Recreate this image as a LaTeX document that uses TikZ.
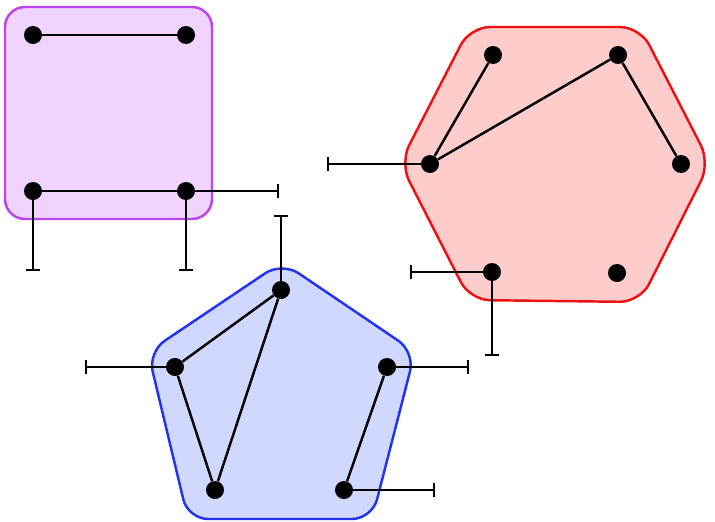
\documentclass[tikz,border=0pt]{standalone}
\usetikzlibrary{arrows.meta}
\definecolor{sqfill}{HTML}{F0D4FF}
\definecolor{sqline}{HTML}{BB44EE}
\definecolor{hxfill}{HTML}{FFCCCC}
\definecolor{hxline}{HTML}{EE1111}
\definecolor{pnfill}{HTML}{D0D8FF}
\definecolor{pnline}{HTML}{2233EE}
\tikzset{
  pt/.style={circle,fill=black,inner sep=0pt,minimum size=0.36cm},
  link/.style={line width=1.4pt},
  stub/.style={line width=1.4pt,-{Bar[width=8pt,line width=1.4pt]}},
  region/.style={line width=1.4pt,rounded corners=0.4cm}
}
\begin{document}
\begin{tikzpicture}[x=0.02cm,y=-0.02cm]
  \useasboundingbox (0,0) rectangle (715,521);

  % regions
  \draw[region,fill=sqfill,draw=sqline] (5,7) rectangle (212,219);
  \draw[region,fill=hxfill,draw=hxline] (470,27) -- (640,27) -- (710,163) -- (640,302) -- (470,300) -- (400,163) -- cycle;
  \draw[region,fill=pnfill,draw=pnline] (282,262) -- (415,352) -- (372,519) -- (188,519) -- (148,352) -- cycle;

  % square
  \node[pt] (s1) at (33,35) {};
  \node[pt] (s2) at (186,35) {};
  \node[pt] (s3) at (33,191) {};
  \node[pt] (s4) at (186,191) {};
  \coordinate (s4e) at (279,191);
  \coordinate (s3s) at (33,271);
  \coordinate (s4s) at (186,271);
  \draw[link] (s1) -- (s2);
  \draw[link] (s3) -- (s4);
  \draw[stub] (s4.center) -- (s4e);
  \draw[stub] (s3.center) -- (s3s);
  \draw[stub] (s4.center) -- (s4s);

  % hexagon
  \node[pt] (h1) at (493,55) {};
  \node[pt] (h2) at (618,55) {};
  \node[pt] (h3) at (681,164) {};
  \node[pt] (h4) at (430,164) {};
  \node[pt] (h5) at (492,272) {};
  \node[pt] (h6) at (617,273) {};
  \coordinate (h4w) at (327,164);
  \coordinate (h5w) at (410,272);
  \coordinate (h5s) at (492,356);
  \draw[link] (h4) -- (h1);
  \draw[link] (h4) -- (h2);
  \draw[link] (h2) -- (h3);
  \draw[stub] (h4.center) -- (h4w);
  \draw[stub] (h5.center) -- (h5w);
  \draw[stub] (h5.center) -- (h5s);

  % pentagon
  \node[pt] (p1) at (281,290) {};
  \node[pt] (p2) at (175,367) {};
  \node[pt] (p3) at (387,367) {};
  \node[pt] (p4) at (215,490) {};
  \node[pt] (p5) at (344,490) {};
  \coordinate (p1n) at (281,215);
  \coordinate (p2w) at (85,367);
  \coordinate (p3e) at (469,367);
  \coordinate (p5e) at (435,490);
  \draw[link] (p1) -- (p2);
  \draw[link] (p1) -- (p4);
  \draw[link] (p2) -- (p4);
  \draw[link] (p3) -- (p5);
  \draw[stub] (p1.center) -- (p1n);
  \draw[stub] (p2.center) -- (p2w);
  \draw[stub] (p3.center) -- (p3e);
  \draw[stub] (p5.center) -- (p5e);
\end{tikzpicture}
\end{document}
